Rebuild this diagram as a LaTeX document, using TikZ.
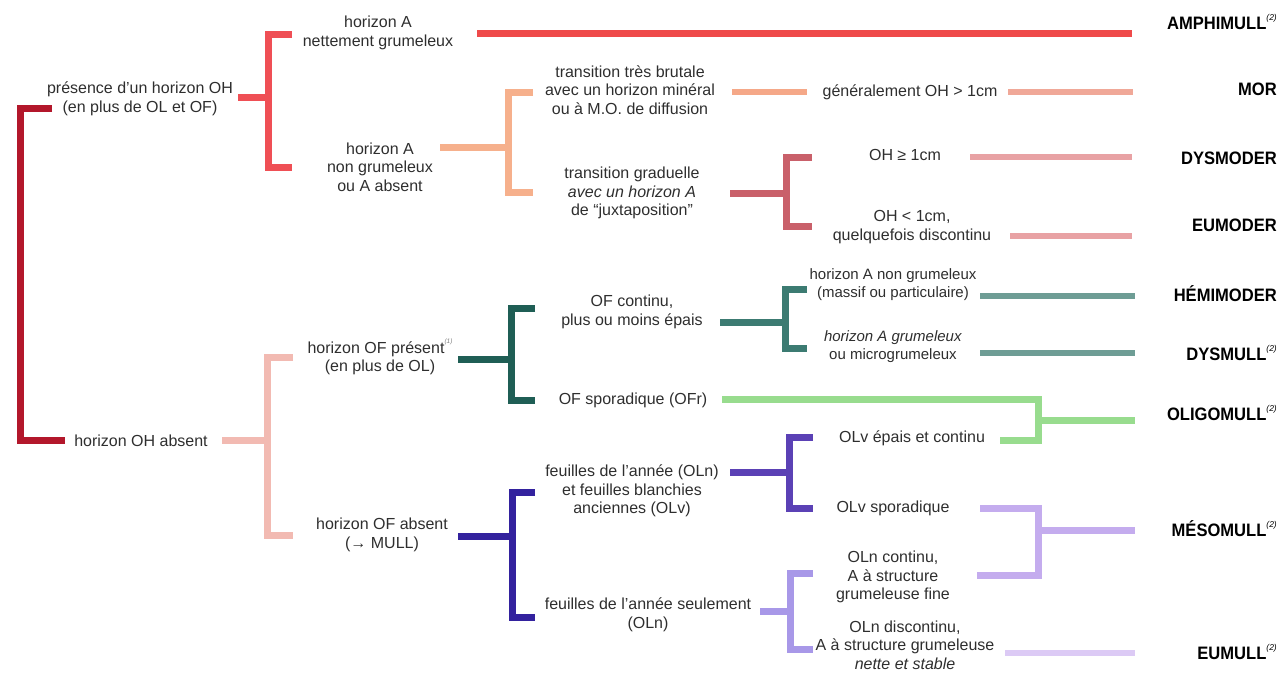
\documentclass[tikz,border=0pt]{standalone}
\usepackage{fontspec}
\setmainfont{Liberation Sans}
\newfontfamily\labfont[FakeStretch=0.92]{Liberation Sans}
\newcommand\fnm[1]{\raisebox{1.0ex}{\normalfont\fontsize{8.5}{9}\selectfont\itshape(#1)}}
\newcommand\fnmsmall[1]{\raisebox{1.1ex}{\normalfont\fontsize{6.5}{7}\selectfont\itshape\color{gray}(#1)}}
\definecolor{textgray}{HTML}{2E2E2E}
\definecolor{cA}{HTML}{B3172B}
\definecolor{cB}{HTML}{EF4F55}
\definecolor{cBl}{HTML}{EF4A4A}
\definecolor{cC}{HTML}{F6B08C}
\definecolor{cCl}{HTML}{F5A888}
\definecolor{cMor}{HTML}{F0A898}
\definecolor{cD}{HTML}{C9606A}
\definecolor{cDl}{HTML}{E8A2A4}
\definecolor{cE}{HTML}{F2BAB2}
\definecolor{cF}{HTML}{1F5E55}
\definecolor{cG}{HTML}{3C7B72}
\definecolor{cGl}{HTML}{6E9D95}
\definecolor{cH}{HTML}{98DC8E}
\definecolor{cI}{HTML}{33229E}
\definecolor{cJ}{HTML}{5B41B5}
\definecolor{cK}{HTML}{C4ACEE}
\definecolor{cL}{HTML}{A898E8}
\definecolor{cLl}{HTML}{DCCAF5}
\begin{document}
\begin{tikzpicture}[x=1pt,y=-1pt,line cap=butt,line join=miter,
  txt/.style={align=center,font=\fontsize{16}{18.5}\selectfont,text=textgray,inner sep=0pt},
  txtn/.style={txt,font=\fontsize{15}{18}\selectfont},
  lab/.style={anchor=east,font=\labfont\bfseries\fontsize{18}{20}\selectfont,text=black,inner sep=0pt},
  bar/.style={line width=7pt},
  rline/.style={line width=6pt}]
\useasboundingbox (0,0) rectangle (1280,678);
% ---------- coordinates ----------
\coordinate (a1) at (52,108); \coordinate (a2) at (20,108); \coordinate (a3) at (20,440); \coordinate (a4) at (65,440);
\coordinate (b0) at (238,97); \coordinate (bm) at (268,97);
\coordinate (b1) at (292,34); \coordinate (b2) at (268,34); \coordinate (b3) at (268,167); \coordinate (b4) at (292,167);
\coordinate (am1) at (477,33); \coordinate (am2) at (1132,33);
\coordinate (c0) at (440,147); \coordinate (cm) at (508,147);
\coordinate (c1) at (533,92); \coordinate (c2) at (508,92); \coordinate (c3) at (508,192); \coordinate (c4) at (533,192);
\coordinate (g1) at (732,92); \coordinate (g2) at (807,92);
\coordinate (mo1) at (1008,92); \coordinate (mo2) at (1133,92);
\coordinate (d0) at (730,193); \coordinate (dm) at (786,193);
\coordinate (d1) at (812,157); \coordinate (d2) at (786,157); \coordinate (d3) at (786,226); \coordinate (d4) at (812,226);
\coordinate (dy1) at (970,157); \coordinate (dy2) at (1132,157);
\coordinate (eu1) at (1010,236); \coordinate (eu2) at (1132,236);
\coordinate (e0) at (222,440); \coordinate (em) at (267,440);
\coordinate (e1) at (293,357); \coordinate (e2) at (267,357); \coordinate (e3) at (267,535); \coordinate (e4) at (293,535);
\coordinate (f0) at (458,359); \coordinate (fm) at (511,359);
\coordinate (f1) at (535,308); \coordinate (f2) at (511,308); \coordinate (f3) at (511,400); \coordinate (f4) at (535,400);
\coordinate (h0) at (720,322); \coordinate (hm) at (785,322);
\coordinate (h1) at (807,289); \coordinate (h2) at (785,289); \coordinate (h3) at (785,348); \coordinate (h4) at (807,348);
\coordinate (he1) at (980,296); \coordinate (he2) at (1135,296);
\coordinate (ds1) at (980,353); \coordinate (ds2) at (1135,353);
\coordinate (o1) at (722,399); \coordinate (o2) at (1038,399); \coordinate (o3) at (1038,440); \coordinate (o4) at (1000,440);
\coordinate (om) at (1038,420); \coordinate (oe) at (1135,420);
\coordinate (i0) at (458,536); \coordinate (im) at (512,536);
\coordinate (i1) at (535,492); \coordinate (i2) at (512,492); \coordinate (i3) at (512,617); \coordinate (i4) at (535,617);
\coordinate (j0) at (730,472); \coordinate (jm) at (789,472);
\coordinate (j1) at (813,437); \coordinate (j2) at (789,437); \coordinate (j3) at (789,508); \coordinate (j4) at (813,508);
\coordinate (k1) at (980,508); \coordinate (k2) at (1038,508); \coordinate (k3) at (1038,575); \coordinate (k4) at (977,575);
\coordinate (km) at (1038,530); \coordinate (ke) at (1135,530);
\coordinate (l0) at (760,611); \coordinate (lm) at (790,611);
\coordinate (l1) at (813,573); \coordinate (l2) at (790,573); \coordinate (l3) at (790,649); \coordinate (l4) at (813,649);
\coordinate (u1) at (1005,653); \coordinate (u2) at (1135,653);
% ---------- connectors ----------
\draw[bar,cA] (a1) -- (a2) -- (a3) -- (a4);
\draw[bar,cB] (b0) -- (bm);
\draw[bar,cB] (b1) -- (b2) -- (b3) -- (b4);
\draw[bar,cBl] (am1) -- (am2);
\draw[bar,cC] (c0) -- (cm);
\draw[bar,cC] (c1) -- (c2) -- (c3) -- (c4);
\draw[rline,cCl] (g1) -- (g2);
\draw[rline,cMor] (mo1) -- (mo2);
\draw[bar,cD] (d0) -- (dm);
\draw[bar,cD] (d1) -- (d2) -- (d3) -- (d4);
\draw[rline,cDl] (dy1) -- (dy2);
\draw[rline,cDl] (eu1) -- (eu2);
\draw[bar,cE] (e0) -- (em);
\draw[bar,cE] (e1) -- (e2) -- (e3) -- (e4);
\draw[bar,cF] (f0) -- (fm);
\draw[bar,cF] (f1) -- (f2) -- (f3) -- (f4);
\draw[bar,cG] (h0) -- (hm);
\draw[bar,cG] (h1) -- (h2) -- (h3) -- (h4);
\draw[rline,cGl] (he1) -- (he2);
\draw[rline,cGl] (ds1) -- (ds2);
\draw[bar,cH] (o1) -- (o2) -- (o3) -- (o4);
\draw[bar,cH] (om) -- (oe);
\draw[bar,cI] (i0) -- (im);
\draw[bar,cI] (i1) -- (i2) -- (i3) -- (i4);
\draw[bar,cJ] (j0) -- (jm);
\draw[bar,cJ] (j1) -- (j2) -- (j3) -- (j4);
\draw[bar,cK] (k1) -- (k2) -- (k3) -- (k4);
\draw[bar,cK] (km) -- (ke);
\draw[bar,cL] (l0) -- (lm);
\draw[bar,cL] (l1) -- (l2) -- (l3) -- (l4);
\draw[rline,cLl] (u1) -- (u2);
% ---------- texts ----------
\node[txt] (t0a) at (140,99) {présence d’un horizon OH\\(en plus de OL et OF)};
\node[txt] (t0b) at (141,441) {horizon OH absent};
\node[txt] (t1a) at (378,33) {horizon A\\nettement grumeleux};
\node[txt] (t1b) at (380,167) {horizon A\\non grumeleux\\ou A absent};
\node[txt] (t2a) at (630,90) {transition très brutale\\avec un horizon minéral\\ou à M.O. de diffusion};
\node[txt] (t2b) at (632,193) {transition graduelle\\\textit{avec un horizon A}\\de “juxtaposition”};
\node[txt] (t3a) at (910,92) {généralement OH > 1cm};
\node[txt] (t4a) at (905,155) {OH ≥ 1cm};
\node[txt] (t4b) at (912,227) {OH < 1cm,\\quelquefois discontinu};
\node[txt] (t1c) at (380,357) {horizon OF présent\fnmsmall{1}\\(en plus de OL)};
\node[txt] (t1d) at (382,535) {horizon OF absent\\(→ MULL)};
\node[txt] (t5a) at (632,312) {OF continu,\\plus ou moins épais};
\node[txt] (t5b) at (633,400) {OF sporadique (OFr)};
\node[txtn] (t6a) at (893,285) {horizon A non grumeleux\\(massif ou particulaire)};
\node[txtn] (t6b) at (893,347) {\textit{horizon A grumeleux}\\ou microgrumeleux};
\node[txt] (t7a) at (912,438) {OLv épais et continu};
\node[txt] (t8a) at (632,491) {feuilles de l’année (OLn)\\et feuilles blanchies\\anciennes (OLv)};
\node[txt] (t8b) at (648,615) {feuilles de l’année seulement\\(OLn)};
\node[txt] (t9a) at (893,508) {OLv sporadique};
\node[txt] (t10a) at (893,577) {OLn continu,\\A à structure\\grumeleuse fine};
\node[txt] (t10b) at (905,645) {OLn discontinu,\\A à structure grumeleuse\\\textit{nette et stable}};
% ---------- labels ----------
\node[lab] (L1) at (1277,22) {AMPHIMULL\fnm{2}};
\node[lab] (L2) at (1277,89) {MOR};
\node[lab] (L3) at (1277,158) {DYSMODER};
\node[lab] (L4) at (1277,225) {EUMODER};
\node[lab] (L5) at (1277,294) {HÉMIMODER};
\node[lab] (L6) at (1277,353) {DYSMULL\fnm{2}};
\node[lab] (L7) at (1277,413) {OLIGOMULL\fnm{2}};
\node[lab] (L8) at (1277,529) {MÉSOMULL\fnm{2}};
\node[lab] (L9) at (1277,652) {EUMULL\fnm{2}};
\end{tikzpicture}
\end{document}
